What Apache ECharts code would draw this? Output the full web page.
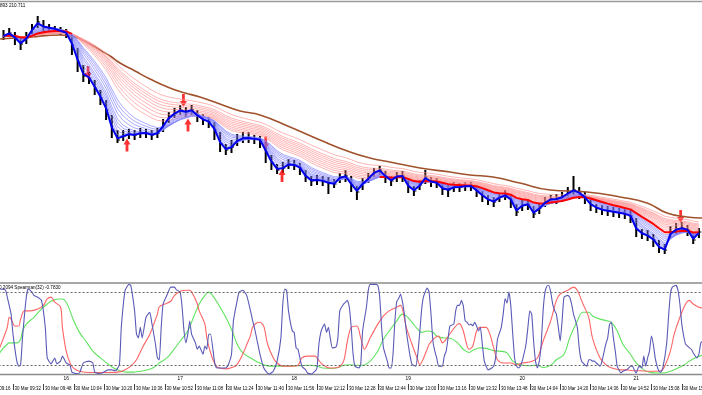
<!DOCTYPE html>
<html><head><meta charset="utf-8">
<script src="https://cdn.jsdelivr.net/npm/echarts@6/dist/echarts.min.js"></script>
<style>html,body{margin:0;padding:0;background:#fff;}#c{width:702px;height:395px;}</style>
</head><body><div id="c"></div>
<script>
// ---- price bars (3-minute bars, minutes since 09:00, first bar 09:27) ----
const barStart = 27, barStep = 3;
const closes = [264,267,262,256,262,271,278,273,272,271,
269,267,255,238,224,222,212,202,190,170,
160,164,166,165,167,167,165,167,175,183,
187,190,188,190,184,180,178,170,156,150,
153,160,162,162,161,160,148,137,130,132,
136,135,132,123,119,120,119,117,116,123,
124,115,108,117,122,128,130,123,119,124,
124,113,109,115,123,118,117,111,110,113,
113,114,114,109,104,100,98,103,105,100,
88,95,96,86,92,98,101,101,103,107,
110,107,102,95,92,90,89,88,87,86,
84,70,66,64,60,52,50,68,71,72,
70,60,68];
const highs = [270,272,268,262,268,276,284,280,276,274,
273,271,266,252,235,228,220,210,200,185,
170,170,171,170,172,171,170,172,181,188,
192,195,193,195,190,186,183,178,168,156,
160,166,168,168,165,164,158,145,136,138,
141,140,137,130,124,125,124,123,121,127,
130,124,114,122,127,132,134,129,124,128,
129,122,114,120,130,123,122,117,115,118,
117,118,118,115,109,105,103,107,110,106,
96,100,100,94,97,103,105,106,108,113,
124,113,108,101,96,95,94,93,92,91,
90,82,71,70,66,60,56,74,77,78,
75,68,72];
const lows = [260,263,255,250,256,266,272,268,268,267,
265,262,245,228,218,216,205,195,180,162,
157,159,161,160,162,162,160,162,168,177,
182,185,183,185,178,175,172,160,148,145,
147,154,157,157,156,152,137,130,126,127,
131,130,125,118,114,115,114,106,112,117,
118,108,100,110,117,123,125,117,114,118,
118,107,104,110,116,113,112,105,103,108,
108,109,109,103,98,95,93,98,100,92,
84,89,90,82,86,93,96,96,98,102,
105,101,96,89,87,85,84,83,82,81,
77,63,61,59,53,47,46,62,66,67,
64,56,62];

// ---- GMMA periods (1-minute EMA periods) ----
const fastPeriods = [5,7,9,11,13,16,19,22,25];
const fastMain = 3;
const slowPeriods = [35,40,45,50,55,60,65,70,80];
const slowMain = 30;
// time spans where the bold red line is drawn
const slowMainSpans = [[25, 63], [224, 395]];

// ---- long moving average (brown) ----
const brownTimes = [25.2,40.9,56.7,64.6,72.5,77.8,83.1,88.3,96.2,104.1,114.6,122.5,130.4,140.9,151.5,162.0,177.8,193.6,209.4,219.9,230.4,246.2,262.0,272.5,284.6,298.8,314.6,334.1,351.5,365.7,376.2,386.7,394.6];
const brownValues = [261,263,265,263,256,250,244,237,229,221,212,207,203,196,189,185,173,160,148,142,138,132,128,125,123,117,110,108,103,97,87,83,82];

// ---- signal arrows [time, price] ----
const arrowsDown = [[71.5,227.5],[121.7,199.5],[165.0,157],[383.4,83.5]];
const arrowsUp = [[92.0,155],[124.1,175],[173.6,124.5]];

// ---- Spearman oscillator [time, value] ----
const spearFast = [[25,0.87],[28,0.85],[29,0.69],[31,0.32],[32,-0.12],[34,-0.71],[35,-0.82],[36,-0.80],[37,-0.20],[39,0.69],[40,0.87],[42,0.80],[43,0.73],[45,0.69],[47,0.62],[49,0.03],[50,-0.64],[52,-0.77],[54,-0.64],[55,-0.77],[57,-0.71],[58,-0.60],[60,-0.75],[62,-0.80],[63,-0.95],[65,-0.98],[67,-0.97],[69,-0.75],[72,-0.71],[74,-0.75],[75,-0.95],[77,-0.98],[79,-0.97],[82,-0.90],[84,-0.90],[86,-0.92],[88,-0.79],[89,0.03],[91,0.84],[93,0.97],[94,0.95],[96,0.39],[97,-0.12],[98,-0.20],[99,0.03],[100,-0.20],[102,0.25],[104,0.36],[105,0.14],[107,-0.34],[108,-0.64],[109,-0.68],[110,0.03],[111,0.54],[113,0.73],[115,0.91],[117,0.91],[118,0.85],[120,0.80],[121,0.47],[122,-0.05],[123,-0.31],[124,-0.12],[125,0.17],[126,-0.12],[128,-0.31],[129,-0.45],[130,-0.38],[132,-0.56],[133,-0.38],[134,-0.45],[135,-0.12],[136,-0.12],[138,-0.71],[139,-0.85],[141,-0.86],[144,-0.86],[145,-0.82],[147,-0.56],[148,0.17],[150,0.62],[151,0.80],[153,0.84],[155,0.73],[157,0.39],[158,0.20],[159,0.03],[160,-0.16],[162,-0.56],[164,-0.86],[166,-0.97],[167,-0.99],[169,-0.93],[171,-0.71],[173,-0.20],[174,0.54],[175,0.87],[176,0.84],[177,0.39],[179,-0.05],[180,-0.08],[181,-0.42],[182,-0.45],[183,-0.64],[184,-0.82],[186,-0.90],[187,-0.97],[189,-0.99],[191,-0.93],[192,-0.86],[193,-0.34],[194,-0.08],[195,0.03],[196,0.10],[197,-0.08],[198,0.03],[199,-0.20],[200,-0.42],[202,-0.40],[203,-0.20],[204,0.39],[206,0.54],[207,0.58],[208,0.62],[209,0.47],[210,0.03],[211,-0.56],[212,-0.82],[214,-0.86],[215,-0.79],[216,-0.05],[218,0.47],[219,0.84],[220,0.97],[223,0.97],[224,0.95],[225,0.69],[226,0.03],[227,-0.42],[229,-0.71],[230,-0.86],[231,-0.86],[232,-0.56],[233,0.17],[234,0.60],[235,0.66],[236,0.76],[237,0.58],[238,0.32],[239,-0.05],[240,-0.34],[241,-0.60],[242,-0.78],[244,-0.82],[245,-0.56],[246,-0.12],[247,0.39],[248,0.69],[250,0.89],[251,0.80],[252,0.32],[253,-0.27],[254,-0.49],[255,-0.64],[256,-0.82],[258,-0.82],[259,-0.60],[260,-0.49],[261,-0.20],[262,0.06],[264,0.10],[265,0.39],[266,0.51],[267,0.51],[268,0.62],[269,0.50],[270,0.17],[271,0.14],[272,0.08],[273,0.10],[274,0.06],[275,0.14],[276,0.06],[277,-0.05],[278,0.03],[279,-0.34],[280,-0.70],[281,-0.82],[282,-0.90],[284,-0.86],[285,-0.82],[286,-0.64],[287,-0.23],[289,0.03],[290,0.32],[291,0.66],[292,0.56],[293,0.80],[294,0.50],[295,-0.10],[296,-0.64],[297,-0.82],[298,-0.86],[299,-0.82],[300,-0.71],[302,-0.34],[303,0.03],[304,0.39],[305,0.32],[306,-0.27],[307,-0.71],[308,-0.86],[309,-0.71],[310,-0.34],[311,0.39],[312,0.80],[313,0.93],[314,0.95],[315,0.80],[316,0.55],[317,0.40],[318,0.32],[319,0.03],[320,-0.27],[321,0.17],[322,0.69],[324,0.73],[325,0.69],[326,0.54],[327,0.32],[329,0.03],[330,-0.42],[331,-0.68],[332,-0.75],[334,-0.82],[335,-0.68],[336,-0.68],[337,-0.71],[338,-0.71],[339,-0.75],[341,-0.82],[342,-0.71],[344,-0.34],[345,-0.20],[346,0.10],[347,0.14],[348,-0.20],[349,-0.49],[350,-0.82],[352,-0.97],[353,-0.93],[355,-0.90],[356,-0.86],[357,-0.82],[358,-0.82],[359,-0.90],[360,-0.97],[361,-0.86],[362,-0.82],[363,-0.86],[364,-0.60],[365,-0.82],[366,-0.64],[367,-0.49],[368,-0.16],[369,-0.34],[370,-0.64],[371,-0.82],[372,-0.93],[373,-0.95],[374,-0.86],[376,-0.34],[377,0.25],[378,0.76],[379,0.91],[381,0.95],[382,0.84],[383,0.54],[384,0.10],[385,-0.16],[386,-0.34],[387,-0.38],[388,-0.42],[389,-0.45],[390,-0.53],[392,-0.64],[393,-0.56],[394,-0.31],[395,-0.27]];
const spearMid = [[25,-0.42],[27,-0.20],[29,0.03],[30,0.25],[31,0.21],[33,0.06],[35,0.06],[36,0.21],[38,0.39],[41,0.39],[45,0.43],[48,0.51],[50,0.65],[52,0.69],[54,0.58],[57,0.48],[58,0.03],[60,-0.49],[62,-0.75],[64,-0.87],[67,-0.93],[73,-0.96],[80,-0.96],[87,-0.95],[90,-0.92],[94,-0.82],[97,-0.68],[100,-0.42],[104,-0.12],[108,0.32],[109,0.48],[112,0.54],[115,0.60],[117,0.73],[120,0.82],[123,0.84],[125,0.84],[127,0.73],[129,0.54],[130,0.39],[133,0.10],[134,-0.20],[136,-0.53],[138,-0.75],[140,-0.85],[144,-0.88],[148,-0.84],[150,-0.78],[153,-0.55],[155,-0.35],[157,-0.15],[158,0.02],[160,0.12],[162,0.14],[164,0.05],[166,-0.34],[169,-0.64],[171,-0.75],[174,-0.82],[178,-0.82],[182,-0.80],[184,-0.64],[187,-0.60],[191,-0.60],[192,-0.64],[195,-0.79],[199,-0.86],[203,-0.85],[206,-0.71],[208,-0.27],[210,0.03],[213,0.06],[215,-0.20],[217,-0.45],[220,-0.20],[224,0.10],[227,0.28],[230,0.39],[234,0.47],[236,0.51],[239,0.03],[242,-0.34],[245,-0.68],[246,-0.79],[250,-0.45],[251,-0.34],[254,-0.20],[256,-0.16],[258,-0.31],[260,-0.23],[263,-0.05],[266,0.10],[267,0.11],[269,-0.05],[271,-0.38],[272,-0.45],[274,-0.38],[276,-0.05],[278,0.03],[281,0.03],[283,-0.12],[285,-0.42],[287,-0.68],[290,-0.75],[294,-0.75],[297,-0.79],[300,-0.75],[304,-0.73],[308,-0.64],[311,-0.27],[315,0.17],[318,0.62],[320,0.76],[324,0.84],[327,0.91],[329,0.84],[332,0.54],[335,0.25],[337,-0.20],[341,-0.64],[345,-0.82],[348,-0.87],[352,-0.90],[355,-0.90],[358,-0.92],[362,-0.92],[366,-0.93],[369,-0.93],[373,-0.92],[375,-0.82],[378,-0.49],[380,-0.12],[383,0.25],[386,0.54],[388,0.62],[390,0.54],[393,0.47],[395,0.45]];
const spearSlow = [[25,-0.53],[27,-0.42],[29,-0.34],[30,-0.31],[34,-0.31],[36,-0.23],[37,-0.05],[39,0.10],[43,0.25],[46,0.39],[50,0.54],[53,0.62],[57,0.65],[58,0.65],[60,0.58],[62,0.39],[64,0.17],[67,-0.08],[71,-0.31],[74,-0.49],[78,-0.64],[82,-0.77],[85,-0.86],[88,-0.92],[92,-0.95],[95,-0.95],[99,-0.93],[103,-0.90],[106,-0.85],[109,-0.75],[113,-0.64],[116,-0.49],[120,-0.27],[124,-0.05],[127,0.25],[130,0.54],[133,0.73],[135,0.80],[137,0.73],[141,0.47],[145,0.17],[148,-0.12],[150,-0.34],[153,-0.53],[157,-0.64],[160,-0.71],[164,-0.79],[167,-0.82],[174,-0.82],[182,-0.81],[188,-0.80],[192,-0.82],[195,-0.86],[199,-0.87],[203,-0.85],[206,-0.80],[209,-0.79],[213,-0.80],[216,-0.80],[220,-0.71],[224,-0.49],[227,-0.23],[230,-0.05],[234,0.17],[237,0.32],[239,0.28],[242,0.14],[245,-0.01],[247,-0.08],[250,-0.05],[253,-0.08],[255,-0.16],[258,-0.20],[262,-0.21],[266,-0.31],[269,-0.45],[272,-0.52],[274,-0.47],[278,-0.42],[281,-0.43],[285,-0.48],[288,-0.49],[292,-0.53],[295,-0.71],[299,-0.79],[303,-0.81],[308,-0.80],[311,-0.85],[315,-0.80],[318,-0.68],[322,-0.56],[325,-0.20],[329,0.17],[332,0.36],[335,0.36],[337,0.28],[341,0.21],[345,0.17],[347,0.14],[350,-0.05],[353,-0.34],[357,-0.56],[360,-0.75],[364,-0.90],[367,-0.95],[371,-0.97],[374,-0.97],[378,-0.93],[382,-0.86],[385,-0.80],[388,-0.71],[391,-0.64],[395,-0.58]];
const oscLevels = [0.8, -0.8];

// ---- axis labels ----
const timeLabels = ['30 Mar 09:16','30 Mar 09:32','30 Mar 09:48','30 Mar 10:04','30 Mar 10:20','30 Mar 10:36','30 Mar 10:52','30 Mar 11:08','30 Mar 11:24','30 Mar 11:40','30 Mar 11:56','30 Mar 12:12','30 Mar 12:28','30 Mar 12:44','30 Mar 13:00','30 Mar 13:16','30 Mar 13:32','30 Mar 13:48','30 Mar 14:04','30 Mar 14:20','30 Mar 14:36','30 Mar 14:52','30 Mar 15:08','30 Mar 15:24','30 Mar 15:40'];
const hourValues = [60,120,180,240,300,360];
const hourLabels = ['16','17','18','19','20','21'];
const priceText = '893 210.711';
const oscText = '0.2094 Spearman(32) -0.7830';

// ---------------------------------------------------------------
const barTimes = closes.map((_, i) => barStart + barStep * i);
function ema(values, period) {
  const a1 = 2 / (period + 1);
  const a = 1 - Math.pow(1 - a1, barStep);
  let e = values[0];
  return values.map(v => (e = e + a * (v - e)));
}
const emaData = p => ema(closes, p).map((v, i) => [barTimes[i], v]);
const lineSeries = (data, color, width, smooth) => ({
  type: 'line', xAxisIndex: 0, yAxisIndex: 0, data, showSymbol: false, symbol: 'none',
  smooth: smooth || false, lineStyle: { color, width }, silent: true, connectNulls: false
});
const inSpans = t => slowMainSpans.some(s => t >= s[0] && t <= s[1]);
const slowMainData = ema(closes, slowMain).map((v, i) => [barTimes[i], inSpans(barTimes[i]) ? v : null]);

const FONT = 'Liberation Sans';
const series = [];
series.push({
  type: 'custom', xAxisIndex: 0, yAxisIndex: 0, silent: true,
  data: barTimes.map((t, i) => [t, lows[i], highs[i], closes[i]]),
  renderItem: (params, api) => {
    const hi = api.coord([api.value(0), api.value(2)]);
    const lo = api.coord([api.value(0), api.value(1)]);
    const cl = api.coord([api.value(0), api.value(3)]);
    return { type: 'group', children: [
      { type: 'line', shape: { x1: hi[0], y1: hi[1], x2: lo[0], y2: lo[1] }, style: { stroke: '#000', lineWidth: 2 } },
      { type: 'line', shape: { x1: cl[0], y1: cl[1], x2: cl[0] + 2.5, y2: cl[1] }, style: { stroke: '#000', lineWidth: 1 } }
    ]};
  }
});
series.push(lineSeries(brownTimes.map((t, i) => [t, brownValues[i]]), '#a0522d', 1.6, true));
slowPeriods.forEach(p => series.push(lineSeries(emaData(p), '#ff9494', 0.7)));
fastPeriods.forEach(p => series.push(lineSeries(emaData(p), '#8282ff', 0.7)));
series.push(lineSeries(slowMainData, '#ff0000', 2));
series.push(lineSeries(emaData(fastMain), '#0000ee', 2));
const downPath = 'path://M3,0H7V7H10L5,13L0,7H3Z';
const upPath = 'path://M5,0L10,6H7V13H3V6H0Z';
series.push({ type: 'scatter', xAxisIndex: 0, yAxisIndex: 0, data: arrowsDown, symbol: downPath, symbolSize: [7, 13], itemStyle: { color: '#ff0000' }, silent: true });
series.push({ type: 'scatter', xAxisIndex: 0, yAxisIndex: 0, data: arrowsUp, symbol: upPath, symbolSize: [7, 13], itemStyle: { color: '#ff0000' }, silent: true });

const oscLine = (data, color, smooth, extra) => Object.assign({
  type: 'line', xAxisIndex: 1, yAxisIndex: 1, data, showSymbol: false, symbol: 'none',
  smooth, lineStyle: { color, width: 1.1 }, silent: true
}, extra || {});
series.push(oscLine(spearSlow, '#5fe35f', 0.4, {
  markLine: { silent: true, symbol: 'none', label: { show: false },
    lineStyle: { color: '#666', type: [2, 2], width: 1 },
    data: oscLevels.map(v => ({ yAxis: v })) }
}));
series.push(oscLine(spearMid, '#ff6464', 0.3));
series.push(oscLine(spearFast, '#5a5ab8', 0.15));

const chart = echarts.init(document.getElementById('c'), null, { renderer: 'canvas' });
chart.setOption({
  animation: false,
  backgroundColor: '#ffffff',
  grid: [
    { left: -17.4, width: 729.6, top: 0, height: 300, show: false, containLabel: false, outerBoundsMode: 'none' },
    { left: -17.4, width: 729.6, top: 283, height: 91.4, show: true, borderColor: '#8c8c8c', borderWidth: 1.5, backgroundColor: 'transparent', containLabel: false, outerBoundsMode: 'none' },
    { left: -47.8, width: 798, top: 370, height: 4.4, show: false, containLabel: false, outerBoundsMode: 'none' }
  ],
  xAxis: [
    { gridIndex: 0, type: 'value', min: 16, max: 400, show: false },
    { gridIndex: 1, type: 'value', min: 16, max: 400, interval: 16, position: 'bottom', offset: 9.6,
      axisLine: { show: false, onZero: false }, splitLine: { show: false },
      axisTick: { show: true, length: 6, lineStyle: { color: '#444', width: 1 } },
      axisLabel: { show: true, fontSize: 4.5, fontFamily: FONT, color: '#000', align: 'left', margin: 2, padding: [0, 0, 0, 1.5],
        hideOverlap: false, formatter: v => timeLabels[Math.round((v - 16) / 16)] || '' } },
    { gridIndex: 2, type: 'value', min: 0, max: 420, interval: 60, position: 'bottom',
      axisLine: { show: false, onZero: false }, splitLine: { show: false }, axisTick: { show: false },
      axisLabel: { show: true, fontSize: 4.8, fontFamily: FONT, color: '#000', margin: 2,
        formatter: v => { const k = hourValues.indexOf(v); return k >= 0 ? hourLabels[k] : ''; } } }
  ],
  yAxis: [
    { gridIndex: 0, type: 'value', min: 0, max: 300, show: false },
    { gridIndex: 1, type: 'value', min: -1, max: 1, show: false },
    { gridIndex: 2, type: 'value', min: 0, max: 1, show: false }
  ],
  graphic: [
    { type: 'line', shape: { x1: 0, y1: 1.5, x2: 702, y2: 1.5 }, style: { stroke: '#9a9a9a', lineWidth: 1.5 }, silent: true },
    { type: 'text', left: 0, top: 3, style: { text: priceText, fontSize: 4.6, fontFamily: FONT, fill: '#000' }, silent: true },
    { type: 'text', left: -1, top: 285.5, style: { text: oscText, fontSize: 4.6, fontFamily: FONT, fill: '#000' }, silent: true }
  ],
  series
});
</script></body></html>
